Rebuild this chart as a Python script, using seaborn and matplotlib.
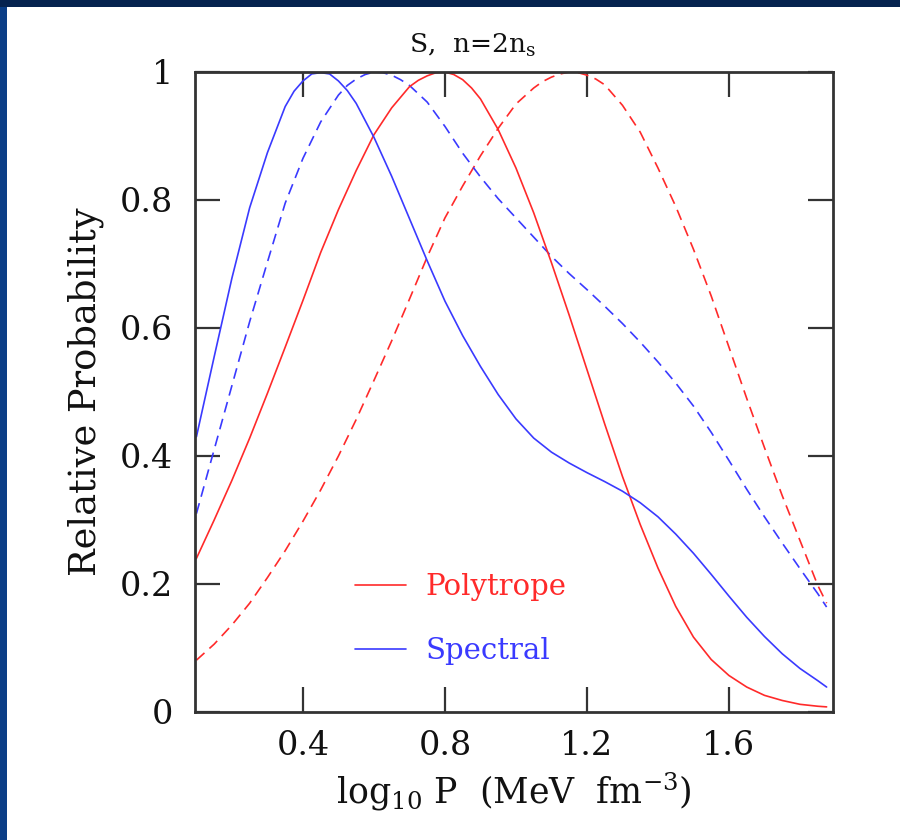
import numpy as np
import pandas as pd
import matplotlib
matplotlib.use("Agg")
import matplotlib.pyplot as plt
from matplotlib.patches import Rectangle
from matplotlib.lines import Line2D
import seaborn as sns

# ---------------- data ----------------
log_p = [0.10, 0.15, 0.20, 0.25, 0.30, 0.35, 0.40, 0.45, 0.50, 0.55,
         0.60, 0.65, 0.70, 0.75, 0.80, 0.85, 0.90, 0.95, 1.00, 1.05,
         1.10, 1.15, 1.20, 1.25, 1.30, 1.35, 1.40, 1.45, 1.50, 1.55,
         1.60, 1.65, 1.70, 1.75, 1.80, 1.85, 1.875]

spectral_solid = [0.430, 0.555, 0.678, 0.788, 0.874, 0.946, 0.986, 0.999, 0.986, 0.951,
                  0.898, 0.837, 0.771, 0.705, 0.642, 0.588, 0.540, 0.496, 0.458, 0.428,
                  0.406, 0.389, 0.374, 0.360, 0.345, 0.327, 0.305, 0.278, 0.248, 0.215,
                  0.181, 0.148, 0.118, 0.091, 0.068, 0.049, 0.039]

spectral_dashed = [0.310, 0.410, 0.510, 0.610, 0.703, 0.795, 0.865, 0.922, 0.964, 0.989,
                   1.000, 0.995, 0.979, 0.953, 0.915, 0.873, 0.836, 0.802, 0.772, 0.742,
                   0.712, 0.685, 0.660, 0.634, 0.607, 0.578, 0.547, 0.514, 0.478, 0.437,
                   0.393, 0.348, 0.305, 0.264, 0.224, 0.185, 0.164]

polytrope_solid = [0.240, 0.300, 0.362, 0.428, 0.498, 0.570, 0.643, 0.718, 0.785, 0.846,
                   0.902, 0.944, 0.977, 0.994, 1.000, 0.988, 0.958, 0.910, 0.850, 0.780,
                   0.702, 0.620, 0.535, 0.450, 0.368, 0.293, 0.225, 0.165, 0.117, 0.082,
                   0.057, 0.039, 0.026, 0.018, 0.012, 0.009, 0.008]

polytrope_dashed = [0.081, 0.106, 0.136, 0.170, 0.210, 0.252, 0.298, 0.347, 0.400, 0.457,
                    0.518, 0.580, 0.645, 0.711, 0.772, 0.822, 0.869, 0.912, 0.950, 0.975,
                    0.992, 1.000, 0.995, 0.980, 0.948, 0.906, 0.850, 0.790, 0.723, 0.650,
                    0.570, 0.490, 0.413, 0.338, 0.268, 0.198, 0.170]

# extra readings around each peak
spectral_solid_peak_x = [0.375, 0.425, 0.475, 0.525]
spectral_solid_peak_y = [0.970, 0.997, 0.997, 0.971]
spectral_dashed_peak_x = [0.525, 0.575, 0.625, 0.675]
spectral_dashed_peak_y = [0.979, 0.996, 0.999, 0.988]
polytrope_solid_peak_x = [0.725, 0.775, 0.825, 0.875]
polytrope_solid_peak_y = [0.987, 0.999, 0.996, 0.975]
polytrope_dashed_peak_x = [1.075, 1.125, 1.175, 1.225]
polytrope_dashed_peak_y = [0.985, 0.997, 0.999, 0.989]

legend_labels = ["Polytrope", "Spectral"]
x_ticks = [0.4, 0.8, 1.2, 1.6]
x_tick_labels = ["0.4", "0.8", "1.2", "1.6"]
y_ticks = [0, 0.2, 0.4, 0.6, 0.8, 1.0]
y_tick_labels = ["0", "0.2", "0.4", "0.6", "0.8", "1"]

# ---------------- styling ----------------
sns.set_theme(style="ticks")
plt.rcParams["font.family"] = ["DejaVu Serif", "DejaVu Sans"]
plt.rcParams["mathtext.fontset"] = "dejavuserif"

RED = "#ff2a2a"
BLUE = "#3a3aff"
AX_COL = "#333333"
TXT = "#111111"

fig = plt.figure(figsize=(9, 8.4), dpi=100, facecolor="#0b3e86")
# top dark strip and white panel (behind the axes)
fig.patches.append(Rectangle((0, 1 - 7 / 840), 1, 7 / 840, transform=fig.transFigure,
                             facecolor="#06234f", edgecolor="none", zorder=-10))
fig.patches.append(Rectangle((7 / 900, 0), 1, 1 - 7 / 840, transform=fig.transFigure,
                             facecolor="white", edgecolor="none", zorder=-10))

ax = fig.add_axes([195 / 900, 1 - 712 / 840, 638 / 900, 640 / 840])
ax.set_zorder(5)
ax.set_facecolor("white")


def curve(ys, px, py):
    d = pd.DataFrame({"logP": list(log_p) + list(px), "prob": list(ys) + list(py)})
    return d.sort_values("logP").reset_index(drop=True)


lw = 1.2
dash = (6.5, 4.0)
common = dict(x="logP", y="prob", ax=ax, lw=lw, legend=False, sort=True,
              solid_joinstyle="round", dash_joinstyle="round")
sns.lineplot(data=curve(polytrope_dashed, polytrope_dashed_peak_x, polytrope_dashed_peak_y),
             color=RED, linestyle=(0, dash), **common)
sns.lineplot(data=curve(spectral_dashed, spectral_dashed_peak_x, spectral_dashed_peak_y),
             color=BLUE, linestyle=(0, dash), **common)
sns.lineplot(data=curve(polytrope_solid, polytrope_solid_peak_x, polytrope_solid_peak_y),
             color=RED, **common)
sns.lineplot(data=curve(spectral_solid, spectral_solid_peak_x, spectral_solid_peak_y),
             color=BLUE, **common)

ax.set_xlim(0.096, 1.893)
ax.set_ylim(0, 1)

ax.set_xticks(x_ticks)
ax.set_xticklabels(x_tick_labels)
ax.set_yticks(y_ticks)
ax.set_yticklabels(y_tick_labels)
ax.tick_params(axis="both", which="major", direction="in", length=18, width=1.6,
               color=AX_COL, labelsize=24, labelcolor=TXT,
               top=True, right=True)
ax.tick_params(axis="x", pad=13)
ax.tick_params(axis="y", pad=16)
ax.minorticks_off()
for s in ax.spines.values():
    s.set_linewidth(2.0)
    s.set_color(AX_COL)

ax.set_xlabel(r"log$_{10}$ P  (MeV  fm$^{-3}$)", fontsize=25, color=TXT, labelpad=6)
ax.set_ylabel("Relative Probability", fontsize=26.5, color=TXT, labelpad=11)

fig.text(472 / 900, 1 - 45 / 840, r"S,  n=2n$_\mathregular{s}$", ha="center", va="center",
         fontsize=19, color=TXT)

handles = [Line2D([], [], color=RED, lw=lw), Line2D([], [], color=BLUE, lw=lw)]
leg = ax.legend(handles, legend_labels, loc="upper left",
                bbox_to_anchor=((355 - 195) / 638, (712 - 573) / 640),
                frameon=False, fontsize=21, handlelength=1.75, handletextpad=0.65,
                labelspacing=1.25, borderpad=0, borderaxespad=0)
for txt, c in zip(leg.get_texts(), [RED, BLUE]):
    txt.set_color(c)

fig.savefig("out.png", dpi=100, facecolor=fig.get_facecolor())
